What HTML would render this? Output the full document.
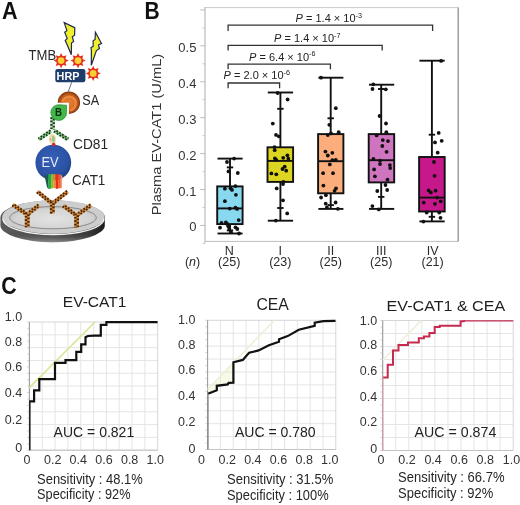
<!DOCTYPE html>
<html><head><meta charset="utf-8"><style>
html,body{margin:0;padding:0;background:#fff;}
svg{display:block;font-family:"Liberation Sans", sans-serif;will-change:transform;}
</style></head><body>
<svg width="520" height="505" viewBox="0 0 520 505">
<rect width="520" height="505" fill="#fff"/>
<text x="2.0" y="18.5" font-size="23" fill="#111" text-anchor="start" font-weight="bold" textLength="15.6" lengthAdjust="spacingAndGlyphs">A</text>
<text x="144.6" y="18.5" font-size="23" fill="#111" text-anchor="start" font-weight="bold" textLength="15.2" lengthAdjust="spacingAndGlyphs">B</text>
<text x="1.2" y="294.4" font-size="23" fill="#111" text-anchor="start" font-weight="bold" textLength="15.4" lengthAdjust="spacingAndGlyphs">C</text>
<defs>
<linearGradient id="rim" x1="0" y1="0" x2="1" y2="0">
 <stop offset="0" stop-color="#5a5a5a"/><stop offset="0.5" stop-color="#505050"/><stop offset="0.85" stop-color="#3a3a3a"/><stop offset="1" stop-color="#1a1a1a"/>
</linearGradient>
<linearGradient id="rimv" x1="0" y1="0" x2="0" y2="1">
 <stop offset="0" stop-color="#000" stop-opacity="0"/><stop offset="0.75" stop-color="#000" stop-opacity="0"/><stop offset="1" stop-color="#fff" stop-opacity="0.35"/>
</linearGradient>
<linearGradient id="rimside" x1="0" y1="0" x2="1" y2="0">
 <stop offset="0" stop-color="#d8d8d8"/><stop offset="0.5" stop-color="#8a8a8a"/><stop offset="1" stop-color="#444"/>
</linearGradient>
<radialGradient id="top" cx="0.5" cy="0.55" r="0.6">
 <stop offset="0" stop-color="#e2e2e2"/><stop offset="0.7" stop-color="#d4d4d4"/><stop offset="1" stop-color="#bcbcbc"/>
</radialGradient>
<radialGradient id="evg" cx="0.45" cy="0.4" r="0.6">
 <stop offset="0" stop-color="#3560b8"/><stop offset="0.8" stop-color="#2b51a3"/><stop offset="1" stop-color="#203f85"/>
</radialGradient>
<radialGradient id="sag" cx="0.5" cy="0.5" r="0.5">
 <stop offset="0" stop-color="#e2803a"/><stop offset="0.5" stop-color="#dc7028"/><stop offset="0.78" stop-color="#b8561a"/><stop offset="1" stop-color="#7e3410"/>
</radialGradient>
<linearGradient id="cat" x1="0" y1="0" x2="1" y2="0">
 <stop offset="0" stop-color="#1f9e48"/><stop offset="0.3" stop-color="#3fb04a"/><stop offset="0.5" stop-color="#c9c02a"/><stop offset="0.7" stop-color="#ef7a22"/><stop offset="1" stop-color="#e23a2a"/>
</linearGradient>
<pattern id="chainO" width="3" height="3" patternUnits="userSpaceOnUse">
 <rect width="3" height="3" fill="#df9440"/><rect width="1.5" height="1.5" fill="#4a2a10"/><rect x="1.5" y="1.5" width="1.5" height="1.5" fill="#4a2a10"/>
</pattern>
<pattern id="chainG" width="3" height="3" patternUnits="userSpaceOnUse">
 <rect width="3" height="3" fill="#86c886"/><rect width="1.5" height="1.5" fill="#1c3a1e"/><rect x="1.5" y="1.5" width="1.5" height="1.5" fill="#1c3a1e"/>
</pattern>
</defs>
<path d="M0.4,217.6 A52.2,17.0 0 0 1 104.8,217.6 L104.8,225.4 A52.2,16.8 0 0 1 0.4,225.4 Z" fill="url(#rim)"/>
<path d="M0.4,217.6 A52.2,17.0 0 0 1 104.8,217.6 L104.8,225.4 A52.2,16.8 0 0 1 0.4,225.4 Z" fill="url(#rimv)"/>
<ellipse cx="53.4" cy="217.0" rx="51.2" ry="16.7" fill="#cdcdcd"/>
<path d="M2.8,218.4 A50.6,16.1 0 0 0 104.0,218.4" fill="none" stroke="#f0f0f0" stroke-width="1.3"/>
<ellipse cx="53.0" cy="217.7" rx="43.4" ry="11.1" fill="url(#top)" stroke="#8a8a8a" stroke-width="1"/>
<line x1="37.40" y1="191.60" x2="51.50" y2="203.00" stroke="#d88c3c" stroke-width="3.9"/>
<line x1="36.79" y1="192.36" x2="50.89" y2="203.76" stroke="#43260e" stroke-width="1.95" stroke-dasharray="1.7 1.7" stroke-dashoffset="0"/>
<line x1="38.01" y1="190.84" x2="52.11" y2="202.24" stroke="#43260e" stroke-width="1.95" stroke-dasharray="1.7 1.7" stroke-dashoffset="1.7"/>
<line x1="67.60" y1="191.60" x2="53.10" y2="203.00" stroke="#d88c3c" stroke-width="3.9"/>
<line x1="67.00" y1="190.83" x2="52.50" y2="202.23" stroke="#43260e" stroke-width="1.95" stroke-dasharray="1.7 1.7" stroke-dashoffset="0"/>
<line x1="68.20" y1="192.37" x2="53.70" y2="203.77" stroke="#43260e" stroke-width="1.95" stroke-dasharray="1.7 1.7" stroke-dashoffset="1.7"/>
<line x1="52.30" y1="201.50" x2="52.30" y2="213.50" stroke="#d88c3c" stroke-width="4.8"/>
<line x1="51.10" y1="201.50" x2="51.10" y2="213.50" stroke="#43260e" stroke-width="2.40" stroke-dasharray="1.7 1.7" stroke-dashoffset="0"/>
<line x1="53.50" y1="201.50" x2="53.50" y2="213.50" stroke="#43260e" stroke-width="2.40" stroke-dasharray="1.7 1.7" stroke-dashoffset="1.7"/>
<line x1="12.70" y1="204.60" x2="26.40" y2="214.00" stroke="#d88c3c" stroke-width="3.9"/>
<line x1="12.15" y1="205.40" x2="25.85" y2="214.80" stroke="#43260e" stroke-width="1.95" stroke-dasharray="1.7 1.7" stroke-dashoffset="0"/>
<line x1="13.25" y1="203.80" x2="26.95" y2="213.20" stroke="#43260e" stroke-width="1.95" stroke-dasharray="1.7 1.7" stroke-dashoffset="1.7"/>
<line x1="39.00" y1="205.20" x2="28.00" y2="214.00" stroke="#d88c3c" stroke-width="3.9"/>
<line x1="38.39" y1="204.44" x2="27.39" y2="213.24" stroke="#43260e" stroke-width="1.95" stroke-dasharray="1.7 1.7" stroke-dashoffset="0"/>
<line x1="39.61" y1="205.96" x2="28.61" y2="214.76" stroke="#43260e" stroke-width="1.95" stroke-dasharray="1.7 1.7" stroke-dashoffset="1.7"/>
<line x1="27.20" y1="212.50" x2="27.20" y2="227.20" stroke="#d88c3c" stroke-width="4.8"/>
<line x1="26.00" y1="212.50" x2="26.00" y2="227.20" stroke="#43260e" stroke-width="2.40" stroke-dasharray="1.7 1.7" stroke-dashoffset="0"/>
<line x1="28.40" y1="212.50" x2="28.40" y2="227.20" stroke="#43260e" stroke-width="2.40" stroke-dasharray="1.7 1.7" stroke-dashoffset="1.7"/>
<line x1="63.20" y1="205.60" x2="75.80" y2="215.00" stroke="#d88c3c" stroke-width="3.9"/>
<line x1="62.62" y1="206.38" x2="75.22" y2="215.78" stroke="#43260e" stroke-width="1.95" stroke-dasharray="1.7 1.7" stroke-dashoffset="0"/>
<line x1="63.78" y1="204.82" x2="76.38" y2="214.22" stroke="#43260e" stroke-width="1.95" stroke-dasharray="1.7 1.7" stroke-dashoffset="1.7"/>
<line x1="91.00" y1="205.20" x2="77.40" y2="215.00" stroke="#d88c3c" stroke-width="3.9"/>
<line x1="90.43" y1="204.41" x2="76.83" y2="214.21" stroke="#43260e" stroke-width="1.95" stroke-dasharray="1.7 1.7" stroke-dashoffset="0"/>
<line x1="91.57" y1="205.99" x2="77.97" y2="215.79" stroke="#43260e" stroke-width="1.95" stroke-dasharray="1.7 1.7" stroke-dashoffset="1.7"/>
<line x1="76.60" y1="213.50" x2="76.60" y2="227.60" stroke="#d88c3c" stroke-width="4.8"/>
<line x1="75.40" y1="213.50" x2="75.40" y2="227.60" stroke="#43260e" stroke-width="2.40" stroke-dasharray="1.7 1.7" stroke-dashoffset="0"/>
<line x1="77.80" y1="213.50" x2="77.80" y2="227.60" stroke="#43260e" stroke-width="2.40" stroke-dasharray="1.7 1.7" stroke-dashoffset="1.7"/>
<circle cx="53.3" cy="162.6" r="17.9" fill="url(#evg)"/>
<text x="41.4" y="167.3" font-size="14" fill="#e8ecf6" text-anchor="start" font-weight="normal" textLength="17.2" lengthAdjust="spacingAndGlyphs">EV</text>
<g><path d="M44.6,176 L48.2,174.4 L48.6,189.4 L47,187 Z" fill="#1d5a4a"/><rect x="48.2" y="174.2" width="2.8" height="14.6" fill="#27a84a"/><rect x="51" y="174.2" width="2.2" height="14.2" fill="#8cbf34"/><rect x="53.2" y="174.2" width="2.4" height="13.8" fill="#ef8c26"/><rect x="55.6" y="174.2" width="2.6" height="14.6" fill="#e2321e"/><rect x="58.2" y="174.4" width="2.6" height="13.8" fill="#f0582e"/><path d="M60.8,174.8 L62.3,176 L62,188.4 L60.8,188 Z" fill="#f3a07a"/></g>
<path d="M49,136 Q50.5,133.5 53,134.2 Q56,135 55.8,139 Q56.2,143 54,144.2 L50.8,144 Q48.4,141 49,136 Z" fill="#eedcaa"/>
<path d="M52.2,135.5 Q55,136 55,139.5 Q54.6,142.5 53,143 Q51.5,140 52.2,135.5 Z" fill="#8fcc8a"/>
<path d="M49.6,138 Q50.8,137 51.6,139.5 Q51,141.5 49.8,141 Z" fill="#e8a8a0"/>
<circle cx="53.7" cy="144.6" r="1.8" fill="#d42b2b"/>
<line x1="52.60" y1="117.20" x2="52.60" y2="129.50" stroke="#b9e0b9" stroke-width="4.6"/>
<line x1="51.45" y1="117.20" x2="51.45" y2="129.50" stroke="#1c3a1e" stroke-width="2.30" stroke-dasharray="1.7 1.7" stroke-dashoffset="0"/>
<line x1="53.75" y1="117.20" x2="53.75" y2="129.50" stroke="#1c3a1e" stroke-width="2.30" stroke-dasharray="1.7 1.7" stroke-dashoffset="1.7"/>
<line x1="51.00" y1="131.00" x2="38.80" y2="139.40" stroke="#8ccf8c" stroke-width="3.8"/>
<line x1="50.46" y1="130.22" x2="38.26" y2="138.62" stroke="#1c3a1e" stroke-width="1.90" stroke-dasharray="1.7 1.7" stroke-dashoffset="0"/>
<line x1="51.54" y1="131.78" x2="39.34" y2="140.18" stroke="#1c3a1e" stroke-width="1.90" stroke-dasharray="1.7 1.7" stroke-dashoffset="1.7"/>
<line x1="54.40" y1="130.60" x2="68.00" y2="139.40" stroke="#8ccf8c" stroke-width="3.8"/>
<line x1="53.88" y1="131.40" x2="67.48" y2="140.20" stroke="#1c3a1e" stroke-width="1.90" stroke-dasharray="1.7 1.7" stroke-dashoffset="0"/>
<line x1="54.92" y1="129.80" x2="68.52" y2="138.60" stroke="#1c3a1e" stroke-width="1.90" stroke-dasharray="1.7 1.7" stroke-dashoffset="1.7"/>
<path d="M57.7,102.7 A11.2,11.2 0 1 1 68.9,113.9 L68.9,102.7 Z" fill="url(#sag)"/>
<path d="M62.5,101.5 A7,7 0 0 1 75.5,101 A7.5,7.5 0 0 1 70.2,110.5" fill="none" stroke="#f09048" stroke-width="2.4" opacity="0.8"/>
<path d="M66.6,105.2 L66.6,112.6 A7.9,7.9 0 1 1 58.7,104.7 Z" fill="#42b84b" stroke="#2c8a36" stroke-width="0.7"/>
<text x="55.0" y="116.3" font-size="11.5" fill="#10280f" text-anchor="start" font-weight="bold" textLength="7.0" lengthAdjust="spacingAndGlyphs">B</text>
<line x1="71.7" y1="82.3" x2="68.2" y2="91.8" stroke="#3a4a66" stroke-width="0.8"/>
<rect x="55.3" y="69" width="30.1" height="13.3" rx="2.2" fill="#1f3d6b"/>
<text x="56.6" y="79.8" font-size="10.8" fill="#ffffff" text-anchor="start" font-weight="bold" textLength="22.8" lengthAdjust="spacingAndGlyphs">HRP</text>
<polygon points="61.10,53.00 62.78,56.53 66.47,55.23 65.17,58.92 68.70,60.60 65.17,62.28 66.47,65.97 62.78,64.67 61.10,68.20 59.42,64.67 55.73,65.97 57.03,62.28 53.50,60.60 57.03,58.92 55.73,55.23 59.42,56.53" fill="#e3301c"/>
<circle cx="61.1" cy="60.6" r="4.9" fill="#e3301c"/>
<circle cx="61.1" cy="60.6" r="3.4" fill="#f8cf34"/>
<polygon points="78.00,53.00 79.68,56.53 83.37,55.23 82.07,58.92 85.60,60.60 82.07,62.28 83.37,65.97 79.68,64.67 78.00,68.20 76.32,64.67 72.63,65.97 73.93,62.28 70.40,60.60 73.93,58.92 72.63,55.23 76.32,56.53" fill="#e3301c"/>
<circle cx="78.0" cy="60.6" r="4.9" fill="#e3301c"/>
<circle cx="78.0" cy="60.6" r="3.4" fill="#f8cf34"/>
<polygon points="93.20,65.80 94.88,69.33 98.57,68.03 97.27,71.72 100.80,73.40 97.27,75.08 98.57,78.77 94.88,77.47 93.20,81.00 91.52,77.47 87.83,78.77 89.13,75.08 85.60,73.40 89.13,71.72 87.83,68.03 91.52,69.33" fill="#e3301c"/>
<circle cx="93.2" cy="73.4" r="4.9" fill="#e3301c"/>
<circle cx="93.2" cy="73.4" r="3.4" fill="#f8cf34"/>
<path d="M64.2,22.6 L74.8,27.6 L74.6,35.2 L72.3,36.7 L73.6,41.6 L71.5,43.1 L71.3,54.8 L67.4,45.2 L65.2,40.3 L67.2,38.6 L64.7,32.3 L66.9,30.6 Z" fill="#f0ef2e" stroke="#1f2b52" stroke-width="1.2" stroke-linejoin="miter"/>
<path d="M95.4,32.3 L101.5,43.4 L98.5,45.0 L99.4,48.6 L96.4,50.6 L91.3,65.2 L91.4,50.8 L91.0,47.6 L93.2,46.3 L93.1,40.8 L95.1,39.4 Z" fill="#f0ef2e" stroke="#1f2b52" stroke-width="1.2" stroke-linejoin="miter"/>
<text x="28.6" y="59.5" font-size="14" fill="#262626" text-anchor="start" font-weight="normal" textLength="27.6" lengthAdjust="spacingAndGlyphs">TMB</text>
<text x="82.3" y="104.9" font-size="14" fill="#262626" text-anchor="start" font-weight="normal" textLength="16.9" lengthAdjust="spacingAndGlyphs">SA</text>
<text x="73.0" y="149.2" font-size="14" fill="#262626" text-anchor="start" font-weight="normal" textLength="35.0" lengthAdjust="spacingAndGlyphs">CD81</text>
<text x="72.0" y="185.2" font-size="14" fill="#262626" text-anchor="start" font-weight="normal" textLength="33.3" lengthAdjust="spacingAndGlyphs">CAT1</text>
<line x1="205" y1="7.6" x2="458.2" y2="7.6" stroke="#c9c9c9" stroke-width="1"/>
<line x1="205" y1="7.1" x2="205" y2="243" stroke="#b4b4b4" stroke-width="1.1"/>
<line x1="205" y1="241.4" x2="458.2" y2="241.4" stroke="#bdbdbd" stroke-width="1"/>
<line x1="458.2" y1="7.6" x2="458.2" y2="241.4" stroke="#8e8e8e" stroke-width="1.3"/>
<line x1="200.3" y1="225.50" x2="205" y2="225.50" stroke="#bbb" stroke-width="1"/>
<line x1="202.6" y1="207.53" x2="205" y2="207.53" stroke="#c8c8c8" stroke-width="1"/>
<line x1="200.3" y1="189.56" x2="205" y2="189.56" stroke="#bbb" stroke-width="1"/>
<line x1="202.6" y1="171.59" x2="205" y2="171.59" stroke="#c8c8c8" stroke-width="1"/>
<line x1="200.3" y1="153.62" x2="205" y2="153.62" stroke="#bbb" stroke-width="1"/>
<line x1="202.6" y1="135.65" x2="205" y2="135.65" stroke="#c8c8c8" stroke-width="1"/>
<line x1="200.3" y1="117.68" x2="205" y2="117.68" stroke="#bbb" stroke-width="1"/>
<line x1="202.6" y1="99.71" x2="205" y2="99.71" stroke="#c8c8c8" stroke-width="1"/>
<line x1="200.3" y1="81.74" x2="205" y2="81.74" stroke="#bbb" stroke-width="1"/>
<line x1="202.6" y1="63.77" x2="205" y2="63.77" stroke="#c8c8c8" stroke-width="1"/>
<line x1="200.3" y1="45.80" x2="205" y2="45.80" stroke="#bbb" stroke-width="1"/>
<line x1="202.6" y1="27.83" x2="205" y2="27.83" stroke="#c8c8c8" stroke-width="1"/>
<line x1="200.3" y1="9.86" x2="205" y2="9.86" stroke="#bbb" stroke-width="1"/>
<line x1="202.6" y1="243.5" x2="205" y2="243.5" stroke="#c8c8c8" stroke-width="1"/>
<text x="196.4" y="231.3" font-size="13" fill="#333" text-anchor="end" font-weight="normal">0</text>
<text x="196.4" y="195.96" font-size="13" fill="#333" text-anchor="end" font-weight="normal">0.1</text>
<text x="196.4" y="160.02" font-size="13" fill="#333" text-anchor="end" font-weight="normal">0.2</text>
<text x="196.4" y="124.08" font-size="13" fill="#333" text-anchor="end" font-weight="normal">0.3</text>
<text x="196.4" y="88.14" font-size="13" fill="#333" text-anchor="end" font-weight="normal">0.4</text>
<text x="196.4" y="52.2" font-size="13" fill="#333" text-anchor="end" font-weight="normal">0.5</text>
<text transform="translate(161.0,134.6) rotate(-90)" x="0" y="0" font-size="13.6" fill="#333" text-anchor="middle" textLength="161.5" lengthAdjust="spacingAndGlyphs">Plasma EV-CAT1 (U/mL)</text>
<path d="M228.1,88.3 L228.1,83.0 L279.6,83.0 L279.6,88.3" fill="none" stroke="#333" stroke-width="1.3"/>
<path d="M228.1,69.2 L228.1,64.2 L330.4,64.2 L330.4,69.2" fill="none" stroke="#333" stroke-width="1.3"/>
<path d="M228.1,50.6 L228.1,45.4 L382.2,45.4 L382.2,50.6" fill="none" stroke="#333" stroke-width="1.3"/>
<path d="M228.1,31.0 L228.1,25.2 L432.6,25.2 L432.6,31.0" fill="none" stroke="#333" stroke-width="1.3"/>
<text x="223.6" y="79.3" font-size="11" fill="#222"><tspan font-style="italic">P</tspan> = 2.0 × 10<tspan font-size="7.2" dy="-4.2">-6</tspan></text>
<text x="249.1" y="60.5" font-size="11" fill="#222"><tspan font-style="italic">P</tspan> = 6.4 × 10<tspan font-size="7.2" dy="-4.2">-6</tspan></text>
<text x="274.1" y="42.3" font-size="11" fill="#222"><tspan font-style="italic">P</tspan> = 1.4 × 10<tspan font-size="7.2" dy="-4.2">-7</tspan></text>
<text x="295.6" y="21.9" font-size="11" fill="#222"><tspan font-style="italic">P</tspan> = 1.4 × 10<tspan font-size="7.2" dy="-4.2">-3</tspan></text>
<g stroke="#111" stroke-width="1.9" fill="none">
<line x1="230.0" y1="158.6" x2="230.0" y2="186.4"/>
<line x1="230.0" y1="224.1" x2="230.0" y2="233.5"/>
<line x1="217.5" y1="158.6" x2="242.6" y2="158.6"/>
<line x1="217.5" y1="233.5" x2="242.6" y2="233.5"/>
<line x1="226.8" y1="167.4" x2="233.2" y2="167.4"/>
<line x1="226.8" y1="230.4" x2="233.2" y2="230.4"/>
<rect x="217.2" y="186.4" width="25.4" height="37.7" fill="#88d8f0"/>
<line x1="217.2" y1="208.4" x2="242.6" y2="208.4"/>
</g>
<circle cx="234.1" cy="158.6" r="1.9" fill="#111"/><circle cx="227" cy="162" r="1.9" fill="#111"/><circle cx="228.5" cy="171.4" r="1.9" fill="#111"/><circle cx="237.8" cy="173" r="1.9" fill="#111"/><circle cx="224.9" cy="188.7" r="1.9" fill="#111"/><circle cx="230.5" cy="188.3" r="1.9" fill="#111"/><circle cx="232" cy="189.9" r="1.9" fill="#111"/><circle cx="235.4" cy="186.1" r="1.9" fill="#111"/><circle cx="235.9" cy="194.8" r="1.9" fill="#111"/><circle cx="224.9" cy="201.2" r="1.9" fill="#111"/><circle cx="229.8" cy="208.6" r="1.9" fill="#111"/><circle cx="235.4" cy="207.7" r="1.9" fill="#111"/><circle cx="237.1" cy="208.9" r="1.9" fill="#111"/><circle cx="238.7" cy="220.1" r="1.9" fill="#111"/><circle cx="221.5" cy="223" r="1.9" fill="#111"/><circle cx="225.9" cy="222.3" r="1.9" fill="#111"/><circle cx="227.2" cy="223.9" r="1.9" fill="#111"/><circle cx="220" cy="227.7" r="1.9" fill="#111"/><circle cx="228.3" cy="226.3" r="1.9" fill="#111"/><circle cx="229.3" cy="228.7" r="1.9" fill="#111"/><circle cx="231" cy="232.2" r="1.9" fill="#111"/><circle cx="235.5" cy="227.3" r="1.9" fill="#111"/><circle cx="237.3" cy="229" r="1.9" fill="#111"/><circle cx="239" cy="233.5" r="1.9" fill="#111"/>
<g stroke="#111" stroke-width="1.9" fill="none">
<line x1="280.4" y1="92.5" x2="280.4" y2="147.3"/>
<line x1="280.4" y1="181.9" x2="280.4" y2="220.7"/>
<line x1="267.8" y1="92.5" x2="293.1" y2="92.5"/>
<line x1="267.8" y1="220.7" x2="293.1" y2="220.7"/>
<line x1="277.2" y1="108.8" x2="283.59999999999997" y2="108.8"/>
<line x1="277.2" y1="208.0" x2="283.59999999999997" y2="208.0"/>
<rect x="267.5" y="147.3" width="25.6" height="34.6" fill="#dcd622"/>
<line x1="267.5" y1="160.9" x2="293.1" y2="160.9"/>
</g>
<circle cx="277.6" cy="93" r="1.9" fill="#111"/><circle cx="287.6" cy="99.5" r="1.9" fill="#111"/><circle cx="272.8" cy="123.6" r="1.9" fill="#111"/><circle cx="276" cy="134.9" r="1.9" fill="#111"/><circle cx="278.8" cy="136.3" r="1.9" fill="#111"/><circle cx="274.5" cy="147.1" r="1.9" fill="#111"/><circle cx="274.7" cy="150.2" r="1.9" fill="#111"/><circle cx="274.9" cy="158.3" r="1.9" fill="#111"/><circle cx="276.3" cy="160" r="1.9" fill="#111"/><circle cx="283.2" cy="157.8" r="1.9" fill="#111"/><circle cx="287.4" cy="155.3" r="1.9" fill="#111"/><circle cx="288.3" cy="158.7" r="1.9" fill="#111"/><circle cx="284.7" cy="166.7" r="1.9" fill="#111"/><circle cx="282.5" cy="169" r="1.9" fill="#111"/><circle cx="286.2" cy="170.7" r="1.9" fill="#111"/><circle cx="271.4" cy="173.4" r="1.9" fill="#111"/><circle cx="276.3" cy="174.3" r="1.9" fill="#111"/><circle cx="283.4" cy="181.9" r="1.9" fill="#111"/><circle cx="283" cy="184.1" r="1.9" fill="#111"/><circle cx="276.7" cy="188.4" r="1.9" fill="#111"/><circle cx="283" cy="200.3" r="1.9" fill="#111"/><circle cx="287.2" cy="213.4" r="1.9" fill="#111"/><circle cx="275.9" cy="220.6" r="1.9" fill="#111"/>
<g stroke="#111" stroke-width="1.9" fill="none">
<line x1="330.7" y1="77.7" x2="330.7" y2="134.1"/>
<line x1="330.7" y1="193.3" x2="330.7" y2="208.9"/>
<line x1="318.40000000000003" y1="77.7" x2="343.4" y2="77.7"/>
<line x1="318.40000000000003" y1="208.9" x2="343.4" y2="208.9"/>
<line x1="327.5" y1="118.3" x2="333.9" y2="118.3"/>
<line x1="327.5" y1="205.1" x2="333.9" y2="205.1"/>
<rect x="318.1" y="134.1" width="25.3" height="59.2" fill="#fbad7b"/>
<line x1="318.1" y1="161.2" x2="343.4" y2="161.2"/>
</g>
<circle cx="321" cy="77.7" r="1.9" fill="#111"/><circle cx="335.8" cy="108.2" r="1.9" fill="#111"/><circle cx="329.3" cy="124.8" r="1.9" fill="#111"/><circle cx="327.8" cy="135.1" r="1.9" fill="#111"/><circle cx="331" cy="133.4" r="1.9" fill="#111"/><circle cx="338.7" cy="132.2" r="1.9" fill="#111"/><circle cx="325.4" cy="151.6" r="1.9" fill="#111"/><circle cx="332.3" cy="152.8" r="1.9" fill="#111"/><circle cx="327.8" cy="155.5" r="1.9" fill="#111"/><circle cx="332.3" cy="160.2" r="1.9" fill="#111"/><circle cx="335.8" cy="159.9" r="1.9" fill="#111"/><circle cx="329.8" cy="164.4" r="1.9" fill="#111"/><circle cx="323.1" cy="173.2" r="1.9" fill="#111"/><circle cx="333" cy="173.2" r="1.9" fill="#111"/><circle cx="323.4" cy="185.6" r="1.9" fill="#111"/><circle cx="336" cy="188.3" r="1.9" fill="#111"/><circle cx="334.6" cy="190.8" r="1.9" fill="#111"/><circle cx="325.9" cy="195.2" r="1.9" fill="#111"/><circle cx="321.1" cy="197.5" r="1.9" fill="#111"/><circle cx="325.7" cy="203.7" r="1.9" fill="#111"/><circle cx="335.6" cy="202.5" r="1.9" fill="#111"/><circle cx="326.9" cy="207.4" r="1.9" fill="#111"/><circle cx="337.9" cy="208.8" r="1.9" fill="#111"/>
<g stroke="#111" stroke-width="1.9" fill="none">
<line x1="381.2" y1="84.7" x2="381.2" y2="134.1"/>
<line x1="381.2" y1="182.4" x2="381.2" y2="208.9"/>
<line x1="369.0" y1="84.7" x2="394.2" y2="84.7"/>
<line x1="369.0" y1="208.9" x2="394.2" y2="208.9"/>
<line x1="378.0" y1="89.0" x2="384.4" y2="89.0"/>
<line x1="378.0" y1="196.9" x2="384.4" y2="196.9"/>
<rect x="368.7" y="134.1" width="25.5" height="48.3" fill="#cf74be"/>
<line x1="368.7" y1="160.2" x2="394.2" y2="160.2"/>
</g>
<circle cx="373.3" cy="84.3" r="1.9" fill="#111"/><circle cx="372.5" cy="89" r="1.9" fill="#111"/><circle cx="385.8" cy="89.3" r="1.9" fill="#111"/><circle cx="379.6" cy="116" r="1.9" fill="#111"/><circle cx="386" cy="123.5" r="1.9" fill="#111"/><circle cx="386.3" cy="132.2" r="1.9" fill="#111"/><circle cx="376.7" cy="135.4" r="1.9" fill="#111"/><circle cx="382.8" cy="140.1" r="1.9" fill="#111"/><circle cx="388" cy="141.1" r="1.9" fill="#111"/><circle cx="382.3" cy="146" r="1.9" fill="#111"/><circle cx="386.6" cy="151.8" r="1.9" fill="#111"/><circle cx="373.4" cy="158.9" r="1.9" fill="#111"/><circle cx="380" cy="160.7" r="1.9" fill="#111"/><circle cx="380" cy="164.1" r="1.9" fill="#111"/><circle cx="389.9" cy="165.1" r="1.9" fill="#111"/><circle cx="390.2" cy="168.1" r="1.9" fill="#111"/><circle cx="374.1" cy="169.4" r="1.9" fill="#111"/><circle cx="374.9" cy="176.3" r="1.9" fill="#111"/><circle cx="387.5" cy="179.7" r="1.9" fill="#111"/><circle cx="385.5" cy="185" r="1.9" fill="#111"/><circle cx="377.3" cy="191" r="1.9" fill="#111"/><circle cx="387.2" cy="190" r="1.9" fill="#111"/><circle cx="372.4" cy="206.1" r="1.9" fill="#111"/><circle cx="378.8" cy="209.4" r="1.9" fill="#111"/>
<g stroke="#111" stroke-width="1.9" fill="none">
<line x1="431.9" y1="60.7" x2="431.9" y2="157.0"/>
<line x1="431.9" y1="211.5" x2="431.9" y2="221.4"/>
<line x1="419.40000000000003" y1="60.7" x2="444.7" y2="60.7"/>
<line x1="419.40000000000003" y1="221.4" x2="444.7" y2="221.4"/>
<line x1="428.7" y1="134.7" x2="435.09999999999997" y2="134.7"/>
<line x1="428.7" y1="216.8" x2="435.09999999999997" y2="216.8"/>
<rect x="419.1" y="157.0" width="25.6" height="54.5" fill="#c6188a"/>
<line x1="419.1" y1="197.6" x2="444.7" y2="197.6"/>
</g>
<circle cx="441.1" cy="60.9" r="1.9" fill="#111"/><circle cx="438.7" cy="132.9" r="1.9" fill="#111"/><circle cx="435" cy="142.4" r="1.9" fill="#111"/><circle cx="441.7" cy="140.8" r="1.9" fill="#111"/><circle cx="437.7" cy="152.7" r="1.9" fill="#111"/><circle cx="434" cy="162" r="1.9" fill="#111"/><circle cx="434.6" cy="175.8" r="1.9" fill="#111"/><circle cx="428.6" cy="190.4" r="1.9" fill="#111"/><circle cx="430.8" cy="192.4" r="1.9" fill="#111"/><circle cx="435.6" cy="190.7" r="1.9" fill="#111"/><circle cx="437.2" cy="197.6" r="1.9" fill="#111"/><circle cx="423.7" cy="202.6" r="1.9" fill="#111"/><circle cx="435" cy="203.8" r="1.9" fill="#111"/><circle cx="440.7" cy="201.3" r="1.9" fill="#111"/><circle cx="426.7" cy="212.5" r="1.9" fill="#111"/><circle cx="439.2" cy="212.5" r="1.9" fill="#111"/><circle cx="440.5" cy="217.8" r="1.9" fill="#111"/><circle cx="423.4" cy="221.6" r="1.9" fill="#111"/>
<text x="229.2" y="254.6" font-size="12.5" fill="#2a2a2a" text-anchor="middle" font-weight="normal">N</text>
<text x="229.2" y="266.3" font-size="12.5" fill="#2a2a2a" text-anchor="middle" font-weight="normal">(25)</text>
<text x="280.3" y="254.6" font-size="12.5" fill="#2a2a2a" text-anchor="middle" font-weight="normal">I</text>
<text x="280.3" y="266.3" font-size="12.5" fill="#2a2a2a" text-anchor="middle" font-weight="normal">(23)</text>
<text x="330.7" y="254.6" font-size="12.5" fill="#2a2a2a" text-anchor="middle" font-weight="normal">II</text>
<text x="330.7" y="266.3" font-size="12.5" fill="#2a2a2a" text-anchor="middle" font-weight="normal">(25)</text>
<text x="381.2" y="254.6" font-size="12.5" fill="#2a2a2a" text-anchor="middle" font-weight="normal">III</text>
<text x="381.2" y="266.3" font-size="12.5" fill="#2a2a2a" text-anchor="middle" font-weight="normal">(25)</text>
<text x="432.6" y="254.6" font-size="12.5" fill="#2a2a2a" text-anchor="middle" font-weight="normal">IV</text>
<text x="432.6" y="266.3" font-size="12.5" fill="#2a2a2a" text-anchor="middle" font-weight="normal">(21)</text>
<text x="192.6" y="266.3" font-size="12.5" fill="#2a2a2a" text-anchor="middle">(<tspan font-style="italic">n</tspan>)</text>
<path d="M42.23,322.0 L42.23,450.2 M29.4,334.82 L157.7,334.82 M55.06,322.0 L55.06,450.2 M29.4,347.64 L157.7,347.64 M67.89,322.0 L67.89,450.2 M29.4,360.46 L157.7,360.46 M80.72,322.0 L80.72,450.2 M29.4,373.28 L157.7,373.28 M93.55,322.0 L93.55,450.2 M29.4,386.10 L157.7,386.10 M106.38,322.0 L106.38,450.2 M29.4,398.92 L157.7,398.92 M119.21,322.0 L119.21,450.2 M29.4,411.74 L157.7,411.74 M132.04,322.0 L132.04,450.2 M29.4,424.56 L157.7,424.56 M144.87,322.0 L144.87,450.2 M29.4,437.38 L157.7,437.38" stroke="#e2e2e2" stroke-width="0.9" fill="none"/>
<path d="M26.9,322.00 L29.4,322.00 M26.9,328.41 L29.4,328.41 M26.9,334.82 L29.4,334.82 M26.9,341.23 L29.4,341.23 M26.9,347.64 L29.4,347.64 M26.9,354.05 L29.4,354.05 M26.9,360.46 L29.4,360.46 M26.9,366.87 L29.4,366.87 M26.9,373.28 L29.4,373.28 M26.9,379.69 L29.4,379.69 M26.9,386.10 L29.4,386.10 M26.9,392.51 L29.4,392.51 M26.9,398.92 L29.4,398.92 M26.9,405.33 L29.4,405.33 M26.9,411.74 L29.4,411.74 M26.9,418.15 L29.4,418.15 M26.9,424.56 L29.4,424.56 M26.9,430.97 L29.4,430.97 M26.9,437.38 L29.4,437.38 M26.9,443.79 L29.4,443.79 M26.9,450.20 L29.4,450.20" stroke="#d0d0d0" stroke-width="0.8" fill="none"/>
<rect x="29.4" y="322.0" width="128.29999999999998" height="128.2" fill="none" stroke="#d6d6d6" stroke-width="1"/>
<line x1="29.4" y1="322.0" x2="29.4" y2="450.2" stroke="#9a9a9a" stroke-width="1"/>
<line x1="29.4" y1="450.2" x2="157.7" y2="450.2" stroke="#c4c4c4" stroke-width="1"/>
<line x1="29.4" y1="387.6" x2="95.0" y2="322.0" stroke="#dbe596" stroke-width="1.6"/>
<path d="M29.8,401.4 L34.1,401.4 L34.1,390.3 L39.3,390.3 L39.3,379.2 L55,379.2 L55,362.8 L65.5,362.8 L65.5,360.2 L76.3,360.2 L76.3,351.8 L81.2,351.8 L81.2,344.4 L85.5,344.4 L85.5,337.2 L88,336 L94.3,335.6 L100.8,335.6 L100.8,324.8 L106.4,324.8 L106.4,322.2 L157.6,322.2" fill="none" stroke="#111" stroke-width="2.2" stroke-linejoin="miter"/>
<text x="62.8" y="306.9" font-size="15.2" fill="#1e1e1e" text-anchor="start" font-weight="normal" textLength="63.6" lengthAdjust="spacingAndGlyphs">EV-CAT1</text>
<text x="53.6" y="437.3" font-size="14" fill="#222" text-anchor="start" font-weight="normal" textLength="80.6" lengthAdjust="spacingAndGlyphs">AUC = 0.821</text>
<text x="37.1" y="483.8" font-size="14.4" fill="#262626" text-anchor="start" font-weight="normal" textLength="105.6" lengthAdjust="spacingAndGlyphs">Sensitivity : 48.1%</text>
<text x="37.1" y="499.4" font-size="14.4" fill="#262626" text-anchor="start" font-weight="normal" textLength="93.4" lengthAdjust="spacingAndGlyphs">Specificity : 92%</text>
<text x="22.2" y="321.4" font-size="12.5" fill="#333" text-anchor="end" font-weight="normal">1.0</text>
<text x="22.2" y="345.9" font-size="12.5" fill="#333" text-anchor="end" font-weight="normal">0.8</text>
<text x="22.2" y="371" font-size="12.5" fill="#333" text-anchor="end" font-weight="normal">0.6</text>
<text x="22.2" y="396.8" font-size="12.5" fill="#333" text-anchor="end" font-weight="normal">0.4</text>
<text x="22.2" y="424" font-size="12.5" fill="#333" text-anchor="end" font-weight="normal">0.2</text>
<text x="22.2" y="451.5" font-size="12.5" fill="#333" text-anchor="end" font-weight="normal">0</text>
<text x="27.0" y="463.6" font-size="12.5" fill="#333" text-anchor="middle" font-weight="normal">0</text>
<text x="52.66" y="463.6" font-size="12.5" fill="#333" text-anchor="middle" font-weight="normal">0.2</text>
<text x="78.32" y="463.6" font-size="12.5" fill="#333" text-anchor="middle" font-weight="normal">0.4</text>
<text x="103.98" y="463.6" font-size="12.5" fill="#333" text-anchor="middle" font-weight="normal">0.6</text>
<text x="129.64" y="463.6" font-size="12.5" fill="#333" text-anchor="middle" font-weight="normal">0.8</text>
<text x="155.3" y="463.6" font-size="12.5" fill="#333" text-anchor="middle" font-weight="normal">1.0</text>
<path d="M220.42,320.3 L220.42,449.5 M207.6,333.22 L335.8,333.22 M233.24,320.3 L233.24,449.5 M207.6,346.14 L335.8,346.14 M246.06,320.3 L246.06,449.5 M207.6,359.06 L335.8,359.06 M258.88,320.3 L258.88,449.5 M207.6,371.98 L335.8,371.98 M271.70,320.3 L271.70,449.5 M207.6,384.90 L335.8,384.90 M284.52,320.3 L284.52,449.5 M207.6,397.82 L335.8,397.82 M297.34,320.3 L297.34,449.5 M207.6,410.74 L335.8,410.74 M310.16,320.3 L310.16,449.5 M207.6,423.66 L335.8,423.66 M322.98,320.3 L322.98,449.5 M207.6,436.58 L335.8,436.58" stroke="#e2e2e2" stroke-width="0.9" fill="none"/>
<path d="M205.1,320.30 L207.6,320.30 M205.1,326.76 L207.6,326.76 M205.1,333.22 L207.6,333.22 M205.1,339.68 L207.6,339.68 M205.1,346.14 L207.6,346.14 M205.1,352.60 L207.6,352.60 M205.1,359.06 L207.6,359.06 M205.1,365.52 L207.6,365.52 M205.1,371.98 L207.6,371.98 M205.1,378.44 L207.6,378.44 M205.1,384.90 L207.6,384.90 M205.1,391.36 L207.6,391.36 M205.1,397.82 L207.6,397.82 M205.1,404.28 L207.6,404.28 M205.1,410.74 L207.6,410.74 M205.1,417.20 L207.6,417.20 M205.1,423.66 L207.6,423.66 M205.1,430.12 L207.6,430.12 M205.1,436.58 L207.6,436.58 M205.1,443.04 L207.6,443.04 M205.1,449.50 L207.6,449.50" stroke="#d0d0d0" stroke-width="0.8" fill="none"/>
<rect x="207.6" y="320.3" width="128.20000000000002" height="129.2" fill="none" stroke="#d6d6d6" stroke-width="1"/>
<line x1="207.6" y1="320.3" x2="207.6" y2="449.5" stroke="#9a9a9a" stroke-width="1"/>
<line x1="207.6" y1="449.5" x2="335.8" y2="449.5" stroke="#c4c4c4" stroke-width="1"/>
<path d="M207.9,389.5 L233.4,362.8 L233.4,382.7 L228.6,382.9 L216.8,385.8 L216.8,390.3 L208.5,393.6 Z" fill="#eeeebb" fill-opacity="0.35"/>
<line x1="207.5" y1="389.5" x2="274.5" y2="320.3" stroke="#eeefd8" stroke-width="1.6"/>
<path d="M208,393.8 L216.8,390.3 L216.8,385.8 L227.7,384.4 L228.6,382.9 L233.4,382.7 L233.4,362.3 L242.8,359.9 L249.1,352.8 L258.6,350.4 L268.9,345.2 L279,341.7 L279,339.3 L287.7,336.1 L298.8,329.8 L314.7,325.8 L314.7,322.7 L323.4,321.1 L335.5,320.8" fill="none" stroke="#111" stroke-width="2.2" stroke-linejoin="miter"/>
<text x="256.4" y="309.7" font-size="16" fill="#1e1e1e" text-anchor="start" font-weight="normal" textLength="32.5" lengthAdjust="spacingAndGlyphs">CEA</text>
<text x="234.9" y="437.3" font-size="14" fill="#222" text-anchor="start" font-weight="normal" textLength="80.8" lengthAdjust="spacingAndGlyphs">AUC = 0.780</text>
<text x="227.0" y="484.2" font-size="14.4" fill="#262626" text-anchor="start" font-weight="normal" textLength="106.2" lengthAdjust="spacingAndGlyphs">Sensitivity : 31.5%</text>
<text x="227.0" y="500.0" font-size="14.4" fill="#262626" text-anchor="start" font-weight="normal" textLength="101.6" lengthAdjust="spacingAndGlyphs">Specificity : 100%</text>
<text x="195.4" y="324.2" font-size="12.5" fill="#333" text-anchor="end" font-weight="normal">1.0</text>
<text x="195.4" y="348.7" font-size="12.5" fill="#333" text-anchor="end" font-weight="normal">0.8</text>
<text x="195.4" y="373.8" font-size="12.5" fill="#333" text-anchor="end" font-weight="normal">0.6</text>
<text x="195.4" y="399.8" font-size="12.5" fill="#333" text-anchor="end" font-weight="normal">0.4</text>
<text x="195.4" y="425.8" font-size="12.5" fill="#333" text-anchor="end" font-weight="normal">0.2</text>
<text x="195.4" y="452.7" font-size="12.5" fill="#333" text-anchor="end" font-weight="normal">0</text>
<text x="201.6" y="463.8" font-size="12.5" fill="#333" text-anchor="middle" font-weight="normal">0</text>
<text x="227.24" y="463.8" font-size="12.5" fill="#333" text-anchor="middle" font-weight="normal">0.2</text>
<text x="252.88" y="463.8" font-size="12.5" fill="#333" text-anchor="middle" font-weight="normal">0.4</text>
<text x="278.52" y="463.8" font-size="12.5" fill="#333" text-anchor="middle" font-weight="normal">0.6</text>
<text x="304.16" y="463.8" font-size="12.5" fill="#333" text-anchor="middle" font-weight="normal">0.8</text>
<text x="329.8" y="463.8" font-size="12.5" fill="#333" text-anchor="middle" font-weight="normal">1.0</text>
<path d="M395.75,320.5 L395.75,450.5 M382.7,333.50 L513.2,333.50 M408.80,320.5 L408.80,450.5 M382.7,346.50 L513.2,346.50 M421.85,320.5 L421.85,450.5 M382.7,359.50 L513.2,359.50 M434.90,320.5 L434.90,450.5 M382.7,372.50 L513.2,372.50 M447.95,320.5 L447.95,450.5 M382.7,385.50 L513.2,385.50 M461.00,320.5 L461.00,450.5 M382.7,398.50 L513.2,398.50 M474.05,320.5 L474.05,450.5 M382.7,411.50 L513.2,411.50 M487.10,320.5 L487.10,450.5 M382.7,424.50 L513.2,424.50 M500.15,320.5 L500.15,450.5 M382.7,437.50 L513.2,437.50" stroke="#e2e2e2" stroke-width="0.9" fill="none"/>
<path d="M380.2,320.50 L382.7,320.50 M380.2,327.00 L382.7,327.00 M380.2,333.50 L382.7,333.50 M380.2,340.00 L382.7,340.00 M380.2,346.50 L382.7,346.50 M380.2,353.00 L382.7,353.00 M380.2,359.50 L382.7,359.50 M380.2,366.00 L382.7,366.00 M380.2,372.50 L382.7,372.50 M380.2,379.00 L382.7,379.00 M380.2,385.50 L382.7,385.50 M380.2,392.00 L382.7,392.00 M380.2,398.50 L382.7,398.50 M380.2,405.00 L382.7,405.00 M380.2,411.50 L382.7,411.50 M380.2,418.00 L382.7,418.00 M380.2,424.50 L382.7,424.50 M380.2,431.00 L382.7,431.00 M380.2,437.50 L382.7,437.50 M380.2,444.00 L382.7,444.00 M380.2,450.50 L382.7,450.50" stroke="#d0d0d0" stroke-width="0.8" fill="none"/>
<rect x="382.7" y="320.5" width="130.50000000000006" height="130.0" fill="none" stroke="#d6d6d6" stroke-width="1"/>
<line x1="382.7" y1="320.5" x2="382.7" y2="450.5" stroke="#9a9a9a" stroke-width="1"/>
<line x1="382.7" y1="450.5" x2="513.2" y2="450.5" stroke="#c4c4c4" stroke-width="1"/>
<line x1="382.7" y1="360.2" x2="421.2" y2="320.5" stroke="#eeefd8" stroke-width="1.6"/>
<path d="M382.9,377.4 L387.7,377.4 L387.7,364.7 L393,364.7 L393,350.4 L398.5,350.4 L398.5,344.9 L408,344.9 L408,342.5 L418.8,342.5 L418.8,338.2 L423.9,338.2 L423.9,336.6 L429.4,336.6 L429.4,333 L434.7,333 L434.7,327.1 L439.7,327.1 L439.7,325.8 L460.6,325.8 L460.6,321.4 L465,321" fill="none" stroke="#c62a50" stroke-width="2.0" stroke-linejoin="miter"/>
<text x="386.6" y="310.5" font-size="15.2" fill="#1e1e1e" text-anchor="start" font-weight="normal" textLength="118.6" lengthAdjust="spacingAndGlyphs">EV-CAT1 &amp; CEA</text>
<text x="414.6" y="437.3" font-size="14" fill="#222" text-anchor="start" font-weight="normal" textLength="81.7" lengthAdjust="spacingAndGlyphs">AUC = 0.874</text>
<text x="398.1" y="481.6" font-size="14.4" fill="#262626" text-anchor="start" font-weight="normal" textLength="106.4" lengthAdjust="spacingAndGlyphs">Sensitivity : 66.7%</text>
<text x="398.1" y="498.0" font-size="14.4" fill="#262626" text-anchor="start" font-weight="normal" textLength="95.2" lengthAdjust="spacingAndGlyphs">Specificity : 92%</text>
<text x="377.1" y="324.7" font-size="12.5" fill="#333" text-anchor="end" font-weight="normal">1.0</text>
<text x="377.1" y="349.3" font-size="12.5" fill="#333" text-anchor="end" font-weight="normal">0.8</text>
<text x="377.1" y="375.3" font-size="12.5" fill="#333" text-anchor="end" font-weight="normal">0.6</text>
<text x="377.1" y="400.7" font-size="12.5" fill="#333" text-anchor="end" font-weight="normal">0.4</text>
<text x="377.1" y="426.4" font-size="12.5" fill="#333" text-anchor="end" font-weight="normal">0.2</text>
<text x="377.1" y="453.4" font-size="12.5" fill="#333" text-anchor="end" font-weight="normal">0</text>
<text x="380.9" y="464.2" font-size="12.5" fill="#333" text-anchor="middle" font-weight="normal">0</text>
<text x="407.0" y="464.2" font-size="12.5" fill="#333" text-anchor="middle" font-weight="normal">0.2</text>
<text x="433.1" y="464.2" font-size="12.5" fill="#333" text-anchor="middle" font-weight="normal">0.4</text>
<text x="459.2" y="464.2" font-size="12.5" fill="#333" text-anchor="middle" font-weight="normal">0.6</text>
<text x="485.3" y="464.2" font-size="12.5" fill="#333" text-anchor="middle" font-weight="normal">0.8</text>
<text x="511.4" y="464.2" font-size="12.5" fill="#333" text-anchor="middle" font-weight="normal">1.0</text>
<line x1="29.8" y1="450.2" x2="29.8" y2="400.4" stroke="#222" stroke-width="1.6"/>
<line x1="207.9" y1="449.5" x2="207.9" y2="393.5" stroke="#8c8c8c" stroke-width="1.5"/>
<line x1="465" y1="320.8" x2="513.2" y2="320.8" stroke="#c62a50" stroke-width="1.2"/>
<line x1="382.9" y1="450.5" x2="382.9" y2="377" stroke="#e0a0aa" stroke-width="1"/>
</svg>
</body></html>
